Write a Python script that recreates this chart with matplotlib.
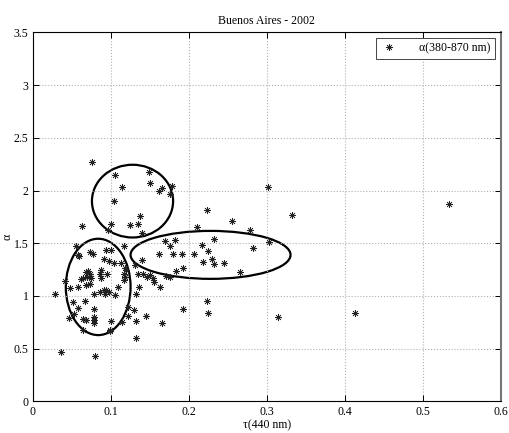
import matplotlib
matplotlib.use("Agg")
import matplotlib.pyplot as plt
from matplotlib.patches import Ellipse
from matplotlib.ticker import FuncFormatter

plt.rcParams['font.family'] = ['Liberation Serif', 'DejaVu Serif']

# aerosol optical depth at 440 nm and Angstrom exponent (380-870 nm)
tau = [0.076, 0.105, 0.149, 0.151, 0.115, 0.162, 0.166, 0.179, 0.176, 0.104,
       0.137, 0.101, 0.125, 0.135, 0.140, 0.063, 0.096,
       0.302, 0.224, 0.332, 0.255, 0.279, 0.211, 0.233, 0.217, 0.225,
       0.303, 0.282, 0.218, 0.230, 0.233, 0.245, 0.266, 0.224, 0.225, 0.314,
       0.533, 0.413,
       0.169, 0.183, 0.176, 0.162, 0.180, 0.192, 0.207, 0.193, 0.184, 0.176,
       0.171, 0.140, 0.131, 0.135, 0.142, 0.146, 0.150, 0.154, 0.156, 0.163,
       0.136, 0.133, 0.193, 0.166, 0.145, 0.122, 0.130, 0.122, 0.133, 0.133,
       0.117, 0.117, 0.117, 0.120, 0.118, 0.110, 0.118, 0.115, 0.099,
       0.055, 0.073, 0.077, 0.058, 0.094, 0.100, 0.092, 0.098, 0.104, 0.113,
       0.088, 0.086, 0.095, 0.068, 0.071, 0.074, 0.065, 0.070, 0.062, 0.042,
       0.058, 0.068, 0.074, 0.048, 0.029, 0.078, 0.086, 0.092, 0.094, 0.098,
       0.093, 0.105, 0.052, 0.067, 0.058, 0.078, 0.053, 0.046, 0.065, 0.068,
       0.078, 0.078, 0.079, 0.069, 0.100, 0.065, 0.099, 0.036, 0.080, 0.088,
       0.075, 0.060]
alpha = [2.27, 2.15, 2.18, 2.07, 2.03, 2.00, 2.02, 2.04, 1.97, 1.90,
         1.76, 1.68, 1.67, 1.68, 1.60, 1.66, 1.63,
         2.03, 1.82, 1.77, 1.71, 1.63, 1.65, 1.54, 1.48, 1.43,
         1.51, 1.46, 1.32, 1.35, 1.30, 1.31, 1.23, 0.95, 0.84, 0.80,
         1.87, 0.84,
         1.52, 1.53, 1.47, 1.40, 1.40, 1.40, 1.40, 1.27, 1.24, 1.18,
         1.19, 1.34, 1.29, 1.21, 1.21, 1.18, 1.20, 1.17, 1.13, 1.09,
         1.09, 1.02, 0.88, 0.74, 0.81, 0.90, 0.87, 0.81, 0.76, 0.60,
         1.47, 1.21, 1.15, 1.25, 1.27, 1.09, 1.18, 0.75, 0.67,
         1.47, 1.42, 1.40, 1.39, 1.44, 1.44, 1.35, 1.33, 1.31, 1.31,
         1.25, 1.21, 1.21, 1.23, 1.24, 1.21, 1.17, 1.18, 1.16, 1.14,
         1.09, 1.10, 1.11, 1.08, 1.02, 1.02, 1.04, 1.06, 1.06, 1.04,
         1.02, 1.01, 0.94, 0.95, 0.89, 0.88, 0.83, 0.79, 0.78, 0.77,
         0.80, 0.77, 0.74, 0.77, 0.76, 0.68, 0.68, 0.47, 0.43, 1.17,
         1.17, 1.38]

# groups circled on the plot: (center x, center y, width, height)
groups = [(0.128, 1.90, 0.104, 0.69),
          (0.084, 1.086, 0.083, 0.914),
          (0.228, 1.39, 0.205, 0.455)]

fig = plt.figure(figsize=(5.1, 4.33), dpi=100)
ax = fig.add_axes([0.064, 0.073, 0.918, 0.852])

ax.plot(tau, alpha, linestyle='none', marker=(8, 2, 0), markersize=5,
        markeredgewidth=0.5, color='#222222', label='α(380-870 nm)')

for cx, cy, w, h in groups:
    ax.add_patch(Ellipse((cx, cy), w, h, fill=False, edgecolor='black', linewidth=1.6))

ax.set_xlim(0, 0.6)
ax.set_ylim(0, 3.5)
ax.set_xticks([0, 0.1, 0.2, 0.3, 0.4, 0.5, 0.6])
ax.set_yticks([0, 0.5, 1, 1.5, 2, 2.5, 3, 3.5])
fmt = FuncFormatter(lambda v, p: '%g' % round(v, 2))
ax.xaxis.set_major_formatter(fmt)
ax.yaxis.set_major_formatter(fmt)
ax.tick_params(direction='in', top=True, right=True, labelsize=8.5, length=4, width=0.7, pad=3)
ax.grid(True, linestyle=':', color='#b0b0b0', linewidth=0.8)
for s in ax.spines.values():
    s.set_linewidth(0.8)
ax.spines['right'].set_color('#777777')
ax.spines['right'].set_linewidth(1.5)

ax.set_title('Buenos Aires - 2002', fontsize=8.5, pad=6)
ax.set_xlabel('τ(440 nm)', fontsize=8.5, labelpad=1)
ax.set_ylabel('α', fontsize=8.5)
ax.yaxis.set_label_coords(-0.04, 0.445)

leg = ax.legend(loc='upper right', fontsize=8.5, fancybox=False, framealpha=1,
                edgecolor='#444444', handlelength=1.5, borderaxespad=0.5,
                handletextpad=1.8, borderpad=0.35)
leg.get_frame().set_linewidth(0.7)

fig.savefig('out.png', dpi=100)
